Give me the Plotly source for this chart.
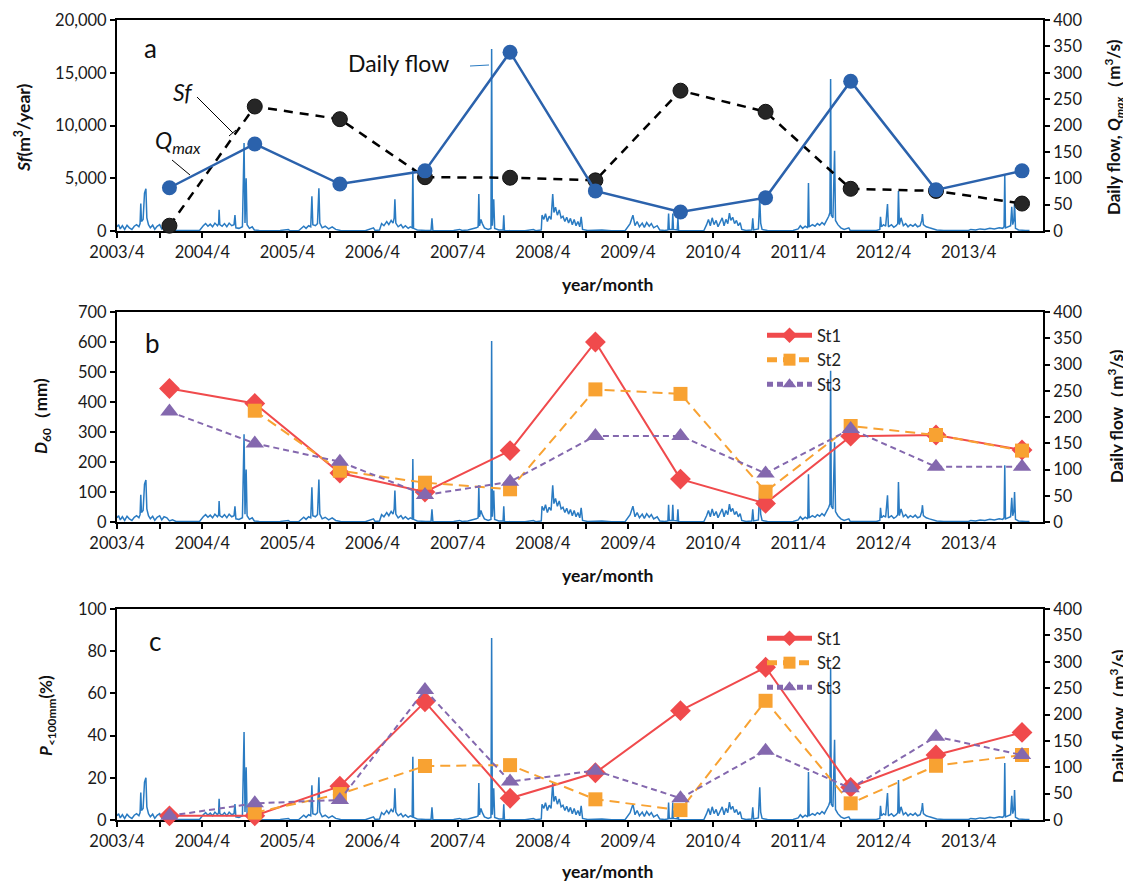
import plotly.graph_objects as go

# ---------------- data ----------------
point_dates = ["2003-11-12", "2004-11-12", "2005-11-12", "2006-11-12", "2007-11-12", "2008-11-12",
               "2009-11-12", "2010-11-12", "2011-11-12", "2012-11-12", "2013-11-16"]

sf_values = [500, 11800, 10600, 5100, 5050, 4800, 13300, 11300, 4000, 3800, 2600]
qmax_values = [82, 165, 89, 114, 339, 76, 36, 63, 284, 78, 114]

d60_st1 = [445, 395, 163, 100, 238, 600, 143, 62, 286, 290, 240]
d60_st2 = [None, 371, 171, 131, 109, 442, 427, 101, 320, 290, 238]
d60_st3 = [368, 262, 201, 90, 134, 287, 287, 162, 310, 184, 184]

p100_st1 = [2, 2, 16, 56, 10.3, 22.4, 51.8, 72.4, 15.5, 30.8, 41.5]
p100_st2 = [None, 3.5, 12.3, 25.6, 26, 9.8, 4.7, 56.5, 7.9, 25.7, 30.8]
p100_st3 = [2, 7.9, 9.5, 61.6, 18.2, 23.4, 10.3, 32.8, 15, 39.5, 30.8]

tick_dates = ["2003-04-01", "2004-04-01", "2005-04-01", "2006-04-01", "2007-04-01", "2008-04-01",
              "2009-04-01", "2010-04-01", "2011-04-01", "2012-04-01", "2013-04-01"]
tick_labels = ["2003/4", "2004/4", "2005/4", "2006/4", "2007/4", "2008/4",
               "2009/4", "2010/4", "2011/4", "2012/4", "2013/4"]
minor_tick_dates = ["2003-10-01", "2004-10-01", "2005-10-01", "2006-10-01", "2007-10-01",
                    "2008-10-01", "2009-10-01", "2010-10-01", "2011-10-01", "2012-10-01",
                    "2013-10-01"]

daily_flow = [
    ("2003-04-01", 8), ("2003-04-08", 12), ("2003-04-15", 4), ("2003-04-24", 10), ("2003-05-04", 3),
    ("2003-05-14", 11), ("2003-05-24", 6), ("2003-06-04", 3), ("2003-06-14", 9), ("2003-06-24", 12),
    ("2003-07-04", 8), ("2003-07-09", 14), ("2003-07-12", 52), ("2003-07-15", 18), ("2003-07-22", 22),
    ("2003-07-28", 72), ("2003-08-03", 80), ("2003-08-07", 25), ("2003-08-14", 12), ("2003-08-22", 6),
    ("2003-09-01", 11), ("2003-09-10", 3), ("2003-09-20", 9), ("2003-10-01", 12), ("2003-10-10", 4),
    ("2003-10-20", 10), ("2003-11-01", 8), ("2003-11-12", 2), ("2003-11-25", 4), ("2003-12-10", 1),
    ("2004-01-05", 1), ("2004-02-01", 1), ("2004-03-01", 2), ("2004-03-20", 1), ("2004-04-05", 10),
    ("2004-04-15", 14), ("2004-04-25", 9), ("2004-05-05", 13), ("2004-05-15", 8), ("2004-05-25", 15),
    ("2004-06-05", 10), ("2004-06-10", 14), ("2004-06-12", 40), ("2004-06-15", 12), ("2004-06-25", 9),
    ("2004-07-05", 14), ("2004-07-15", 8), ("2004-07-25", 15), ("2004-08-05", 10), ("2004-08-15", 12),
    ("2004-08-19", 30), ("2004-08-23", 6), ("2004-09-05", 5), ("2004-09-20", 8), ("2004-09-27", 167),
    ("2004-10-01", 15), ("2004-10-06", 100), ("2004-10-10", 12), ("2004-10-20", 5), ("2004-11-01", 8),
    ("2004-11-10", 2), ("2004-12-01", 1), ("2005-01-15", 0.5), ("2005-03-01", 1), ("2005-04-05", 3),
    ("2005-04-12", 0.5), ("2005-05-20", 1), ("2005-06-01", 6), ("2005-06-10", 9), ("2005-06-20", 5),
    ("2005-07-01", 10), ("2005-07-10", 8), ("2005-07-15", 66), ("2005-07-19", 12), ("2005-07-30", 10),
    ("2005-08-08", 14), ("2005-08-14", 81), ("2005-08-18", 15), ("2005-08-28", 6), ("2005-09-10", 9),
    ("2005-09-25", 4), ("2005-10-10", 8), ("2005-10-25", 3), ("2005-11-15", 1), ("2006-01-01", 0.5),
    ("2006-03-01", 0.5), ("2006-04-05", 6), ("2006-04-12", 1), ("2006-05-01", 2), ("2006-05-10", 14),
    ("2006-05-20", 10), ("2006-06-01", 18), ("2006-06-10", 12), ("2006-06-20", 20), ("2006-06-28", 15),
    ("2006-07-03", 25), ("2006-07-06", 60), ("2006-07-10", 15), ("2006-07-20", 8), ("2006-08-01", 12),
    ("2006-08-10", 6), ("2006-08-20", 10), ("2006-09-01", 5), ("2006-09-10", 8), ("2006-09-18", 6),
    ("2006-09-21", 120), ("2006-09-24", 5), ("2006-10-10", 2), ("2006-11-15", 1), ("2006-12-08", 1),
    ("2006-12-12", 24), ("2006-12-16", 1), ("2007-01-20", 0.5), ("2007-03-15", 1), ("2007-04-10", 3),
    ("2007-04-20", 1), ("2007-05-15", 2), ("2007-06-05", 4), ("2007-06-20", 6), ("2007-06-28", 8),
    ("2007-07-01", 70), ("2007-07-04", 10), ("2007-07-10", 22), ("2007-07-16", 14), ("2007-07-25", 6),
    ("2007-08-10", 3), ("2007-08-22", 5), ("2007-08-25", 345), ("2007-08-28", 10), ("2007-09-03", 60),
    ("2007-09-07", 5), ("2007-09-25", 2), ("2007-10-13", 2), ("2007-10-16", 30), ("2007-10-19", 1),
    ("2007-11-15", 0.5), ("2008-01-15", 0.5), ("2008-02-20", 3), ("2008-03-01", 0.5), ("2008-03-25", 2),
    ("2008-03-28", 30), ("2008-04-05", 22), ("2008-04-12", 33), ("2008-04-20", 18), ("2008-04-28", 28),
    ("2008-05-06", 22), ("2008-05-13", 70), ("2008-05-18", 35), ("2008-05-25", 45), ("2008-06-02", 30),
    ("2008-06-10", 40), ("2008-06-18", 25), ("2008-06-26", 28), ("2008-07-04", 18), ("2008-07-12", 26),
    ("2008-07-20", 15), ("2008-07-28", 24), ("2008-08-05", 12), ("2008-08-13", 22), ("2008-08-21", 10),
    ("2008-08-29", 18), ("2008-09-06", 8), ("2008-09-12", 27), ("2008-09-18", 3), ("2008-10-10", 1),
    ("2008-12-10", 2), ("2009-01-20", 0.5), ("2009-03-20", 1), ("2009-04-01", 8), ("2009-04-10", 14),
    ("2009-04-22", 30), ("2009-05-01", 10), ("2009-05-10", 18), ("2009-05-20", 8), ("2009-06-01", 15),
    ("2009-06-10", 7), ("2009-06-20", 16), ("2009-07-01", 9), ("2009-07-10", 14), ("2009-07-20", 6),
    ("2009-08-04", 10), ("2009-08-15", 2), ("2009-09-05", 1), ("2009-09-19", 2), ("2009-09-22", 33),
    ("2009-09-25", 3), ("2009-10-07", 3), ("2009-10-10", 33), ("2009-10-13", 3), ("2009-10-29", 2),
    ("2009-11-01", 24), ("2009-11-04", 1), ("2009-12-15", 0.5), ("2010-02-20", 0.5), ("2010-03-04", 12),
    ("2010-03-12", 22), ("2010-03-20", 10), ("2010-03-28", 25), ("2010-04-05", 12), ("2010-04-14", 20),
    ("2010-04-22", 8), ("2010-05-01", 18), ("2010-05-10", 25), ("2010-05-18", 10), ("2010-05-26", 22),
    ("2010-06-03", 14), ("2010-06-10", 34), ("2010-06-16", 20), ("2010-06-24", 26), ("2010-07-02", 14),
    ("2010-07-10", 20), ("2010-07-18", 10), ("2010-07-26", 16), ("2010-08-02", 3), ("2010-08-20", 1),
    ("2010-09-14", 2), ("2010-09-18", 24), ("2010-09-22", 2), ("2010-10-12", 4), ("2010-10-18", 62),
    ("2010-10-22", 15), ("2010-10-28", 3), ("2010-11-20", 1), ("2011-01-15", 0.5), ("2011-03-10", 1),
    ("2011-04-01", 4), ("2011-04-10", 10), ("2011-04-20", 5), ("2011-05-01", 9), ("2011-05-12", 6),
    ("2011-05-15", 91), ("2011-05-18", 8), ("2011-06-01", 12), ("2011-06-12", 9), ("2011-06-22", 14),
    ("2011-07-02", 11), ("2011-07-12", 16), ("2011-07-22", 12), ("2011-08-01", 20), ("2011-08-10", 28),
    ("2011-08-15", 35), ("2011-08-18", 288), ("2011-08-21", 30), ("2011-08-28", 25), ("2011-09-04", 152),
    ("2011-09-08", 20), ("2011-09-18", 12), ("2011-10-01", 6), ("2011-10-15", 3), ("2011-11-04", 6),
    ("2011-11-10", 1), ("2012-01-01", 0.5), ("2012-03-01", 1), ("2012-03-16", 3), ("2012-03-19", 27),
    ("2012-03-23", 8), ("2012-04-01", 12), ("2012-04-10", 9), ("2012-04-18", 51), ("2012-04-22", 8),
    ("2012-05-05", 12), ("2012-05-15", 7), ("2012-05-25", 10), ("2012-06-01", 14), ("2012-06-04", 76),
    ("2012-06-08", 12), ("2012-06-15", 25), ("2012-06-25", 10), ("2012-07-05", 14), ("2012-07-15", 8),
    ("2012-07-25", 12), ("2012-08-05", 9), ("2012-08-15", 13), ("2012-08-25", 8), ("2012-09-05", 10),
    ("2012-09-12", 20), ("2012-09-15", 32), ("2012-09-19", 12), ("2012-10-01", 8), ("2012-10-15", 6),
    ("2012-11-01", 4), ("2012-11-15", 2), ("2012-12-15", 1), ("2013-02-01", 0.5), ("2013-04-01", 1),
    ("2013-04-10", 3), ("2013-05-01", 2), ("2013-05-20", 4), ("2013-06-10", 3), ("2013-07-01", 5),
    ("2013-07-20", 4), ("2013-08-10", 6), ("2013-08-25", 5), ("2013-08-31", 8), ("2013-09-03", 108),
    ("2013-09-06", 6), ("2013-09-15", 8), ("2013-09-28", 10), ("2013-10-03", 46), ("2013-10-07", 12),
    ("2013-10-12", 20), ("2013-10-15", 57), ("2013-10-19", 5), ("2013-11-01", 2), ("2013-12-01", 1),
    ("2013-12-18", 1),
]
flow_dates = [d for d, v in daily_flow]
flow_values = [v for d, v in daily_flow]

# ---------------- style ----------------
FONT = "Lato, 'Open Sans', sans-serif"
FLOW_C = "#2A7BC2"
QMAX_C = "#2B62AC"
ST1_C = "#F04A4C"
ST2_C = "#F8A232"
ST3_C = "#8468AE"
X_RANGE = ["2003-04-01", "2014-02-14"]

# page has an 8px body margin: figure is offset by OFF pixels
OFF = 8
W, H = 1131 - OFF, 884 - OFF
PL, PR, PT, PB = 117, 1043, 20, 820          # plot area in page pixels
ML, MT = PL - OFF, PT - OFF
MR = W - (PR - OFF)
MB = H - (PB - OFF)
PW, PH = PR - PL, PB - PT


def px(x):
    return (x - PL) / PW


def py(y):
    return 1 - (y - PT) / PH


fig = go.Figure()

# panel a
fig.add_trace(go.Scatter(x=flow_dates, y=flow_values, mode="lines", line=dict(color=FLOW_C, width=1.5),
                         xaxis="x", yaxis="y", showlegend=False))
fig.add_trace(go.Scatter(x=point_dates, y=sf_values, mode="lines+markers",
                         line=dict(color="black", width=2.5, dash="9px,7px"),
                         marker=dict(color="#262626", size=15, line=dict(color="#111", width=1)),
                         xaxis="x", yaxis="y2", showlegend=False, cliponaxis=False))
fig.add_trace(go.Scatter(x=point_dates, y=qmax_values, mode="lines+markers",
                         line=dict(color=QMAX_C, width=2.5),
                         marker=dict(color=QMAX_C, size=15),
                         xaxis="x", yaxis="y3", showlegend=False, cliponaxis=False))

# panel b
fig.add_trace(go.Scatter(x=flow_dates, y=flow_values, mode="lines", line=dict(color=FLOW_C, width=1.5),
                         xaxis="x2", yaxis="y4", showlegend=False))
st_styles = [
    ("St1", ST1_C, "solid", "diamond", 16),
    ("St2", ST2_C, "10px,6px", "square", 14),
    ("St3", ST3_C, "6px,4px", "triangle-up", 16),
]
for (name, col, dash, sym, sz), vals in zip(st_styles, [d60_st1, d60_st2, d60_st3]):
    fig.add_trace(go.Scatter(x=point_dates, y=vals, name=name, mode="lines+markers",
                             line=dict(color=col, width=2, dash=dash),
                             marker=dict(color=col, size=sz, symbol=sym),
                             xaxis="x2", yaxis="y5", legend="legend", cliponaxis=False))

# panel c
fig.add_trace(go.Scatter(x=flow_dates, y=flow_values, mode="lines", line=dict(color=FLOW_C, width=1.5),
                         xaxis="x3", yaxis="y6", showlegend=False))
for (name, col, dash, sym, sz), vals in zip(st_styles, [p100_st1, p100_st2, p100_st3]):
    fig.add_trace(go.Scatter(x=point_dates, y=vals, name=name, mode="lines+markers",
                             line=dict(color=col, width=2, dash=dash),
                             marker=dict(color=col, size=sz, symbol=sym),
                             xaxis="x3", yaxis="y7", legend="legend2", cliponaxis=False))

tickfont = dict(family=FONT, size=16.5, color="#1a1a1a")


def xax(anchor):
    return dict(type="date", range=X_RANGE, anchor=anchor, domain=[0, 1],
                tickvals=tick_dates, ticktext=tick_labels, ticks="outside", ticklen=5,
                tickwidth=1.5, tickcolor="black",
                minor=dict(tickvals=minor_tick_dates, ticks="outside", ticklen=5, tickwidth=1.5,
                           tickcolor="black"),
                showline=True, linecolor="black", linewidth=2, mirror=True,
                showgrid=False, zeroline=False, tickfont=tickfont, layer="below traces")


def yright(domain, anchor):
    return dict(domain=domain, anchor=anchor, side="right", range=[0, 400], dtick=50,
                showline=True, linecolor="black", linewidth=2, ticks="outside", ticklen=5,
                tickwidth=1.5, tickcolor="black", showgrid=False, zeroline=False,
                tickfont=tickfont)


def yleft(over, anchor, rng, dtick, fmt=None):
    d = dict(overlaying=over, anchor=anchor, side="left", range=rng, dtick=dtick,
             showline=True, linecolor="black", linewidth=2, ticks="outside", ticklen=5,
             tickwidth=1.5, tickcolor="black", showgrid=False, zeroline=False,
             tickfont=tickfont)
    if fmt:
        d["tickformat"] = fmt
    return d


dom_a = [py(231), py(20)]
dom_b = [py(522), py(312)]
dom_c = [py(820), py(609)]

legend_common = dict(xanchor="left", yanchor="top", bgcolor="rgba(0,0,0,0)",
                     font=dict(family=FONT, size=16.5, color="#222"), tracegroupgap=0,
                     itemwidth=45, itemsizing="constant")

fig.update_layout(
    width=W, height=H, autosize=False,
    margin=dict(l=ML, r=MR, t=MT, b=MB, autoexpand=False),
    paper_bgcolor="white", plot_bgcolor="white",
    font=dict(family=FONT, size=16, color="#222"),
    xaxis=xax("y"),
    xaxis2=xax("y4"),
    xaxis3=xax("y6"),
    yaxis=yright(dom_a, "x"),
    yaxis2=yleft("y", "x", [0, 20000], 5000, ","),
    yaxis3=dict(overlaying="y", anchor="x", range=[0, 400], visible=False),
    yaxis4=yright(dom_b, "x2"),
    yaxis5=yleft("y4", "x2", [0, 700], 100),
    yaxis6=yright(dom_c, "x3"),
    yaxis7=yleft("y6", "x3", [0, 100], 20),
    legend=dict(x=px(762), y=py(318), **legend_common),
    legend2=dict(x=px(762), y=py(621), **legend_common),
)

ann = []


def add_text(x, y, text, size=16, angle=0, xanchor="center"):
    ann.append(dict(x=px(x), y=py(y), xref="paper", yref="paper", text=text, showarrow=False,
                    textangle=angle, xanchor=xanchor, yanchor="middle",
                    font=dict(family=FONT, size=size, color="#111")))


# axis titles
add_text(22, 128, "<b><i>Sf</i>(m<sup>3</sup>/year)</b>", 17.5, -90)
add_text(1114, 127, "<b>Daily flow, <i>Q<sub>max</sub></i>（m<sup>3</sup>/s)</b>", 17, -90)
add_text(42, 416, "<b><i>D</i><sub>60</sub>（mm)</b>", 17, -90)
add_text(1115, 416, "<b>Daily flow（m<sup>3</sup>/s)</b>", 17, -90)
add_text(47, 716, "<b><i>P</i><sub>&lt;100mm</sub>(%)</b>", 17, -90)
add_text(1117, 716, "<b>Daily flow（m<sup>3</sup>/s)</b>", 17, -90)
for yy in (284, 575, 871):
    add_text(607, yy, "<b>year/month</b>", 17.5)

# panel labels and in-plot labels
add_text(150, 48, "a", 26)
add_text(152, 343, "b", 26)
add_text(155, 641, "c", 26)
add_text(346, 63, "Daily flow", 23, xanchor="left")
add_text(183, 92, "<i>Sf</i>", 23)
add_text(178, 141, "<i>Q<sub>max</sub></i>", 23)
fig.update_layout(annotations=ann)

shapes = [
    dict(type="line", xref="paper", yref="paper", x0=px(197), y0=py(97), x1=px(233), y1=py(133),
         line=dict(color="black", width=1)),
    dict(type="line", xref="paper", yref="paper", x0=px(229), y0=py(136), x1=px(236), y1=py(130),
         line=dict(color="black", width=1)),
    dict(type="line", xref="paper", yref="paper", x0=px(172), y0=py(160), x1=px(190), y1=py(175),
         line=dict(color="black", width=1)),
    dict(type="line", xref="paper", yref="paper", x0=px(470), y0=py(66), x1=px(489), y1=py(65),
         line=dict(color=FLOW_C, width=1)),
]
fig.update_layout(shapes=shapes)

fig.write_html("out.html")
